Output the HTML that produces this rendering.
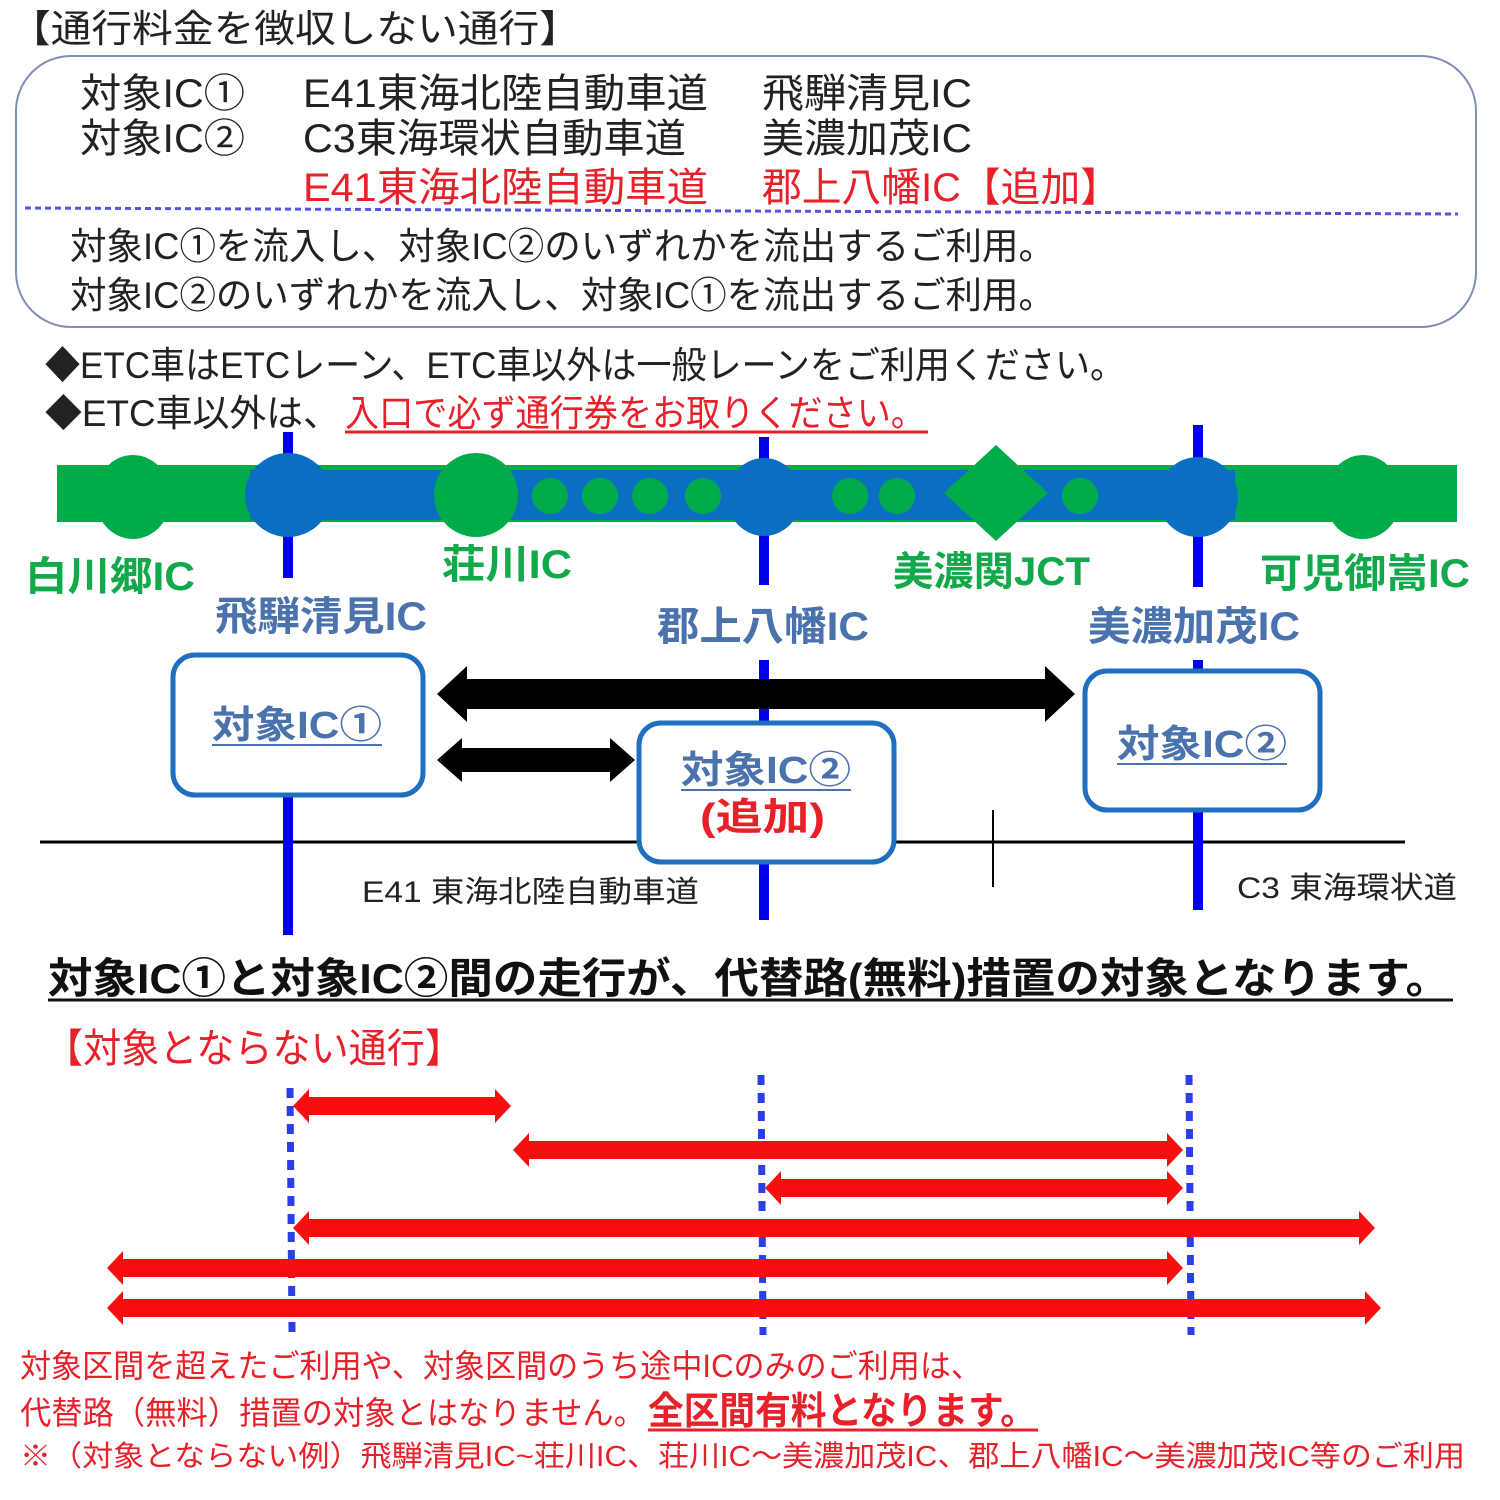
<!DOCTYPE html>
<html><head><meta charset="utf-8"><style>
html,body{margin:0;padding:0;background:#fff;width:1500px;height:1500px;overflow:hidden}
svg{display:block}
text{font-family:"Liberation Sans","Noto Sans CJK JP",sans-serif}
</style></head><body>
<svg width="1500" height="1500" viewBox="0 0 1500 1500" xmlns="http://www.w3.org/2000/svg">
<g lengthAdjust="spacingAndGlyphs">
<text x="10" y="42" font-size="38" fill="#222" textLength="570" lengthAdjust="spacingAndGlyphs">【通行料金を徴収しない通行】</text>
<rect x="16" y="56" width="1460" height="271" rx="55" fill="none" stroke="#7f8fb5" stroke-width="2"/>
<text x="80" y="107" font-size="40" fill="#222" textLength="165" lengthAdjust="spacingAndGlyphs">対象IC①</text>
<text x="303" y="107" font-size="40" fill="#222" textLength="405" lengthAdjust="spacingAndGlyphs">E41東海北陸自動車道</text>
<text x="762" y="107" font-size="40" fill="#222" textLength="210" lengthAdjust="spacingAndGlyphs">飛騨清見IC</text>
<text x="80" y="152" font-size="40" fill="#222" textLength="165" lengthAdjust="spacingAndGlyphs">対象IC②</text>
<text x="303" y="152" font-size="40" fill="#222" textLength="383" lengthAdjust="spacingAndGlyphs">C3東海環状自動車道</text>
<text x="762" y="152" font-size="40" fill="#222" textLength="210" lengthAdjust="spacingAndGlyphs">美濃加茂IC</text>
<text x="303" y="201" font-size="40" fill="#e8202a" textLength="405" lengthAdjust="spacingAndGlyphs">E41東海北陸自動車道</text>
<text x="762" y="201" font-size="40" fill="#e8202a" textLength="358" lengthAdjust="spacingAndGlyphs">郡上八幡IC【追加】</text>
<line x1="25" y1="208" x2="1458" y2="214" stroke="#5555dd" stroke-width="3" stroke-dasharray="6,4"/>
<text x="70" y="259" font-size="37" fill="#222" textLength="985" lengthAdjust="spacingAndGlyphs">対象IC①を流入し、対象IC②のいずれかを流出するご利用。</text>
<text x="70" y="308" font-size="37" fill="#222" textLength="985" lengthAdjust="spacingAndGlyphs">対象IC②のいずれかを流入し、対象IC①を流出するご利用。</text>
<text x="45" y="378" font-size="37" fill="#222" textLength="1080" lengthAdjust="spacingAndGlyphs">◆ETC車はETCレーン、ETC車以外は一般レーンをご利用ください。</text>
<text x="45" y="426" font-size="37" fill="#222" textLength="295" lengthAdjust="spacingAndGlyphs">◆ETC車以外は、</text>
<text x="345" y="426" font-size="37" fill="#e8202a" textLength="580" lengthAdjust="spacingAndGlyphs">入口で必ず通行券をお取りください。</text>
<line x1="345" y1="432" x2="928" y2="432" stroke="#e8202a" stroke-width="3"/>

<!-- map -->
<rect x="57" y="465" width="1400" height="57" fill="#00ac4a"/>
<rect x="250" y="470" width="985" height="50" fill="#0a6fc2"/>
<ellipse cx="133" cy="497" rx="38" ry="42" fill="#00ac4a"/>
<ellipse cx="1363" cy="497" rx="38" ry="42" fill="#00ac4a"/>
<line x1="288" y1="432" x2="288" y2="578" stroke="#0000ee" stroke-width="10"/>
<line x1="764" y1="437" x2="764" y2="585" stroke="#0000ee" stroke-width="10"/>
<line x1="1198" y1="425" x2="1198" y2="587" stroke="#0000ee" stroke-width="10"/>
<ellipse cx="288" cy="495" rx="43" ry="42" fill="#0a6fc2"/>
<ellipse cx="764" cy="497" rx="37" ry="39" fill="#0a6fc2"/>
<ellipse cx="1198" cy="497" rx="40" ry="40" fill="#0a6fc2"/>
<ellipse cx="476" cy="495" rx="42" ry="42" fill="#00ac4a"/>
<g fill="#00ac4a">
<circle cx="550" cy="496" r="18"/><circle cx="600" cy="496" r="18"/><circle cx="650" cy="496" r="18"/><circle cx="703" cy="496" r="18"/>
<circle cx="850" cy="496" r="18"/><circle cx="897" cy="496" r="18"/><circle cx="1080" cy="496" r="18"/>
<polygon points="996,445 1048,493 996,541 944,493"/>
</g>
<g font-weight="bold" fill="#12a94a" font-size="40">
<text x="25" y="590" textLength="170" lengthAdjust="spacingAndGlyphs">白川郷IC</text>
<text x="442" y="578" textLength="130" lengthAdjust="spacingAndGlyphs">荘川IC</text>
<text x="893" y="585" textLength="197" lengthAdjust="spacingAndGlyphs">美濃関JCT</text>
<text x="1260" y="587" textLength="210" lengthAdjust="spacingAndGlyphs">可児御嵩IC</text>
</g>
<g font-weight="bold" fill="#4a72ad" font-size="40">
<text x="215" y="630" textLength="212" lengthAdjust="spacingAndGlyphs">飛騨清見IC</text>
<text x="657" y="640" textLength="212" lengthAdjust="spacingAndGlyphs">郡上八幡IC</text>
<text x="1088" y="640" textLength="212" lengthAdjust="spacingAndGlyphs">美濃加茂IC</text>
</g>
<line x1="40" y1="842" x2="1405" y2="842" stroke="#000" stroke-width="3"/>
<line x1="993" y1="810" x2="993" y2="887" stroke="#000" stroke-width="2"/>
<line x1="288" y1="795" x2="288" y2="935" stroke="#0000ee" stroke-width="10"/>
<line x1="764" y1="660" x2="764" y2="722" stroke="#0000ee" stroke-width="10"/>
<line x1="764" y1="862" x2="764" y2="920" stroke="#0000ee" stroke-width="10"/>
<line x1="1198" y1="660" x2="1198" y2="670" stroke="#0000ee" stroke-width="10"/>
<line x1="1198" y1="810" x2="1198" y2="910" stroke="#0000ee" stroke-width="10"/>
<polygon fill="#000" points="437,694 467,666 467,679 1045,679 1045,666 1075,694 1045,722 1045,709 467,709 467,722"/>
<polygon fill="#000" points="437,760 462,738 462,748 610,748 610,738 635,760 610,782 610,772 462,772 462,782"/>
<g fill="#fff" stroke="#1f6ebf" stroke-width="5">
<rect x="173" y="655" width="250" height="140" rx="22"/>
<rect x="639" y="723" width="255" height="139" rx="22"/>
<rect x="1085" y="671" width="235" height="139" rx="22"/>
</g>
<g font-weight="bold" fill="#4a72ad" font-size="38">
<text x="212" y="738" textLength="170" lengthAdjust="spacingAndGlyphs">対象IC①</text>
<text x="681" y="783" textLength="170" lengthAdjust="spacingAndGlyphs">対象IC②</text>
<text x="1117" y="757" textLength="170" lengthAdjust="spacingAndGlyphs">対象IC②</text>
</g>
<g stroke="#4a72ad" stroke-width="2">
<line x1="212" y1="745" x2="382" y2="745"/><line x1="681" y1="790" x2="851" y2="790"/><line x1="1117" y1="764" x2="1287" y2="764"/>
</g>
<text x="700" y="830" font-size="38" font-weight="bold" fill="#e8202a" textLength="125" lengthAdjust="spacingAndGlyphs">(追加)</text>
<text x="362" y="902" font-size="30" fill="#222" textLength="337" lengthAdjust="spacingAndGlyphs">E41 東海北陸自動車道</text>
<text x="1237" y="898" font-size="30" fill="#222" textLength="220" lengthAdjust="spacingAndGlyphs">C3 東海環状道</text>

<text x="48" y="993" font-size="42" font-weight="bold" fill="#111" textLength="1402" lengthAdjust="spacingAndGlyphs">対象IC①と対象IC②間の走行が、代替路(無料)措置の対象となります。</text>
<line x1="48" y1="1000" x2="1453" y2="1000" stroke="#111" stroke-width="3"/>
<text x="45" y="1062" font-size="40" fill="#e8202a" textLength="418" lengthAdjust="spacingAndGlyphs">【対象とならない通行】</text>

<g stroke="#2a3fe8" stroke-width="7" stroke-dasharray="10,8">
<line x1="290" y1="1088" x2="292" y2="1332"/>
<line x1="761" y1="1075" x2="763" y2="1335"/>
<line x1="1189" y1="1075" x2="1191" y2="1335"/>
</g>
<g fill="#f70f0f">
<polygon points="293,1106 309,1089 309,1097 495,1097 495,1089 511,1106 495,1123 495,1115 309,1115 309,1123"/>
<polygon points="513,1150 529,1133 529,1141 1167,1141 1167,1133 1183,1150 1167,1167 1167,1159 529,1159 529,1167"/>
<polygon points="765,1188 781,1171 781,1179 1167,1179 1167,1171 1183,1188 1167,1205 1167,1197 781,1197 781,1205"/>
<polygon points="293,1228 309,1211 309,1219 1359,1219 1359,1211 1375,1228 1359,1245 1359,1237 309,1237 309,1245"/>
<polygon points="107,1268 123,1251 123,1259 1167,1259 1167,1251 1183,1268 1167,1285 1167,1277 123,1277 123,1285"/>
<polygon points="107,1308 123,1291 123,1299 1365,1299 1365,1291 1381,1308 1365,1325 1365,1317 123,1317 123,1325"/>
</g>
<text x="20" y="1377" font-size="32" fill="#e8202a" textLength="962" lengthAdjust="spacingAndGlyphs">対象区間を超えたご利用や、対象区間のうち途中ICのみのご利用は、</text>
<text x="20" y="1424" font-size="32" fill="#e8202a" textLength="625" lengthAdjust="spacingAndGlyphs">代替路（無料）措置の対象とはなりません。</text>
<text x="648" y="1424" font-size="38" font-weight="bold" fill="#e8202a" textLength="388" lengthAdjust="spacingAndGlyphs">全区間有料となります。</text>
<line x1="648" y1="1430" x2="1038" y2="1430" stroke="#e8202a" stroke-width="3"/>
<text x="20" y="1466" font-size="29" fill="#e8202a" textLength="1445" lengthAdjust="spacingAndGlyphs">※（対象とならない例）飛騨清見IC~荘川IC、荘川IC～美濃加茂IC、郡上八幡IC～美濃加茂IC等のご利用</text>
</g>
</svg>
</body></html>
